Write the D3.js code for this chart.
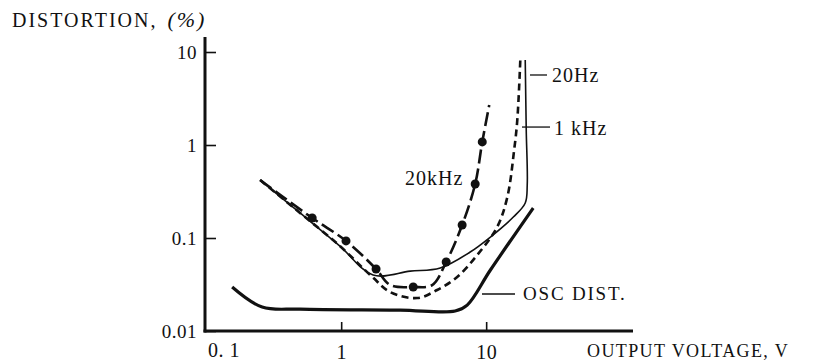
<!DOCTYPE html>
<html lang="en">
<head>
<meta charset="UTF-8" />
<title>Distortion vs Output Voltage</title>
<script src="https://d3js.org/d3.v7.min.js"></script>
<style>
  body { margin: 0; background: #fff; }
  svg { display: block; background: #fff; }
  text { font-family: "Liberation Serif", "Times New Roman", serif; fill: #111; }
  .axis path, .axis line { stroke: #111; }
  .axis .domain { display: none; }
  .curve { fill: none; stroke: #111; stroke-linejoin: round; }
  .lbl { font-size: 20px; letter-spacing: 1px; }
  .leader { stroke: #111; stroke-width: 1.3; }
</style>
</head>
<body>
<svg id="chart" width="821" height="363"></svg>
<script>
// 20 Hz (thin solid)
const volts20Hz = [0.276, 0.52, 0.98, 1.66, 2.99, 4.82, 7.76, 10.7, 15.4, 18.6, 19.2, 18.9, 18.6];
const dist20Hz  = [0.42, 0.186, 0.082, 0.040, 0.044, 0.0476, 0.0707, 0.1025, 0.168, 0.238, 0.371, 1.45, 8.2];

// 1 kHz (dashed)
const volts1kHz = [0.276, 0.52, 0.98, 1.64, 2.18, 3.34, 4.59, 6.31, 8.67, 11.9, 14.0, 15.6, 16.4, 17.2];
const dist1kHz  = [0.42, 0.186, 0.082, 0.0381, 0.0262, 0.0226, 0.0276, 0.0381, 0.0656, 0.131, 0.276, 0.884, 1.86, 8.2];

// 20 kHz (long dashes with measured points)
const volts20kHz = [0.276, 0.631, 1.08, 1.74, 2.18, 3.14, 4.24, 5.3, 6.83, 8.4, 9.4, 10.5];
const dist20kHz  = [0.42, 0.164, 0.093, 0.0464, 0.0312, 0.0297, 0.0312, 0.0552, 0.138, 0.381, 1.08, 2.69];
const dotVolts20kHz = [0.631, 1.08, 1.74, 3.14, 5.3, 6.83, 8.4, 9.4];
const dotDist20kHz  = [0.164, 0.093, 0.0464, 0.0297, 0.0552, 0.138, 0.381, 1.08];

// oscillator residual distortion (thick solid)
const voltsOsc = [0.177, 0.285, 0.52, 2.55, 6.11, 7.4, 10.7, 21.1];
const distOsc  = [0.0297, 0.0181, 0.0172, 0.0168, 0.0164, 0.019, 0.0453, 0.21];

const yTicks = [0.01, 0.1, 1, 10];
const yTickLabels = ["0.01", "0.1", "1", "10"];
const xTicks = [1, 10];
const xTickLabels = ["1", "10"];

const svg = d3.select("#chart");

const x = d3.scaleLog().domain([0.115, 103]).range([205, 633]);
const y = d3.scaleLog().domain([0.01, 14.5]).range([331, 37]);

// axes
svg.append("g")
  .attr("class", "axis")
  .attr("transform", `translate(${x.range()[0]},0)`)
  .call(d3.axisLeft(y).tickValues(yTicks).tickSize(-11).tickPadding(8)
    .tickFormat((d, i) => yTickLabels[i]))
  .call(g => g.selectAll(".tick line").attr("stroke-width", 1.6))
  .call(g => g.selectAll(".tick text")
    .style("font-family", '"Liberation Serif", serif')
    .style("font-size", "19px").style("letter-spacing", "0.5px"));

svg.append("g")
  .attr("class", "axis")
  .attr("transform", `translate(0,${y.range()[0]})`)
  .call(d3.axisBottom(x).tickValues(xTicks).tickSize(-9).tickPadding(14)
    .tickFormat((d, i) => xTickLabels[i]))
  .call(g => g.selectAll(".tick line").attr("stroke-width", 1.6))
  .call(g => g.selectAll(".tick text")
    .style("font-family", '"Liberation Serif", serif')
    .style("font-size", "20px").style("letter-spacing", "0.5px"));

// axis lines
svg.append("line")
  .attr("x1", x.range()[0]).attr("x2", x.range()[0])
  .attr("y1", y.range()[1]).attr("y2", y.range()[0] + 1.5)
  .attr("stroke", "#111").attr("stroke-width", 3);
svg.append("line")
  .attr("x1", x.range()[0] - 1.5).attr("x2", x.range()[1])
  .attr("y1", y.range()[0]).attr("y2", y.range()[0])
  .attr("stroke", "#111").attr("stroke-width", 3);

svg.append("text")
  .attr("x", x.range()[0] + 3).attr("y", 357)
  .style("font-size", "20px").style("letter-spacing", "0.5px")
  .text("0.\u00a01");

// titles
const t1 = svg.append("text").attr("x", 12).attr("y", 27)
  .style("font-size", "20px").style("letter-spacing", "2px");
t1.append("tspan").text("DISTORTION,");
t1.append("tspan").attr("dx", 10).style("font-style", "italic")
  .style("font-size", "22px").style("letter-spacing", "2px").text("(%)");

svg.append("text").attr("x", 587).attr("y", 357)
  .style("font-size", "18px").style("letter-spacing", "1.4px")
  .text("OUTPUT VOLTAGE, V");

// curves
const line = d3.line()
  .x(d => x(d[0]))
  .y(d => y(d[1]))
  .curve(d3.curveCatmullRom.alpha(0.5));

function draw(vs, ds, width, dash) {
  svg.append("path")
    .attr("class", "curve")
    .attr("d", line(vs.map((v, i) => [v, ds[i]])))
    .attr("stroke-width", width)
    .attr("stroke-dasharray", dash);
}

draw(voltsOsc, distOsc, 3.2, null);
draw(volts20Hz, dist20Hz, 1.6, null);
draw(volts1kHz, dist1kHz, 2.6, "7,4.5");
draw(volts20kHz, dist20kHz, 2.6, "14,5");

svg.append("g").selectAll("circle")
  .data(dotVolts20kHz)
  .join("circle")
  .attr("cx", d => x(d))
  .attr("cy", (d, i) => y(dotDist20kHz[i]))
  .attr("r", 4.5)
  .attr("fill", "#111");

// labels with leaders
svg.append("line").attr("class", "leader")
  .attr("x1", 530).attr("x2", 547).attr("y1", y(5.66)).attr("y2", y(5.66));
svg.append("text").attr("class", "lbl").attr("x", 552).attr("y", 82).text("20Hz");

svg.append("line").attr("class", "leader")
  .attr("x1", 522).attr("x2", 550).attr("y1", y(1.56)).attr("y2", y(1.56));
svg.append("text").attr("class", "lbl").attr("x", 554).attr("y", 135).text("1 kHz");

svg.append("text").attr("class", "lbl").attr("x", 405).attr("y", 185).text("20kHz");

svg.append("line").attr("class", "leader")
  .attr("x1", 482).attr("x2", 515).attr("y1", 294).attr("y2", 294);
svg.append("text").attr("class", "lbl").attr("x", 523).attr("y", 300)
  .style("font-size", "19px").style("letter-spacing", "1.8px").text("OSC DIST.");
</script>
</body>
</html>
